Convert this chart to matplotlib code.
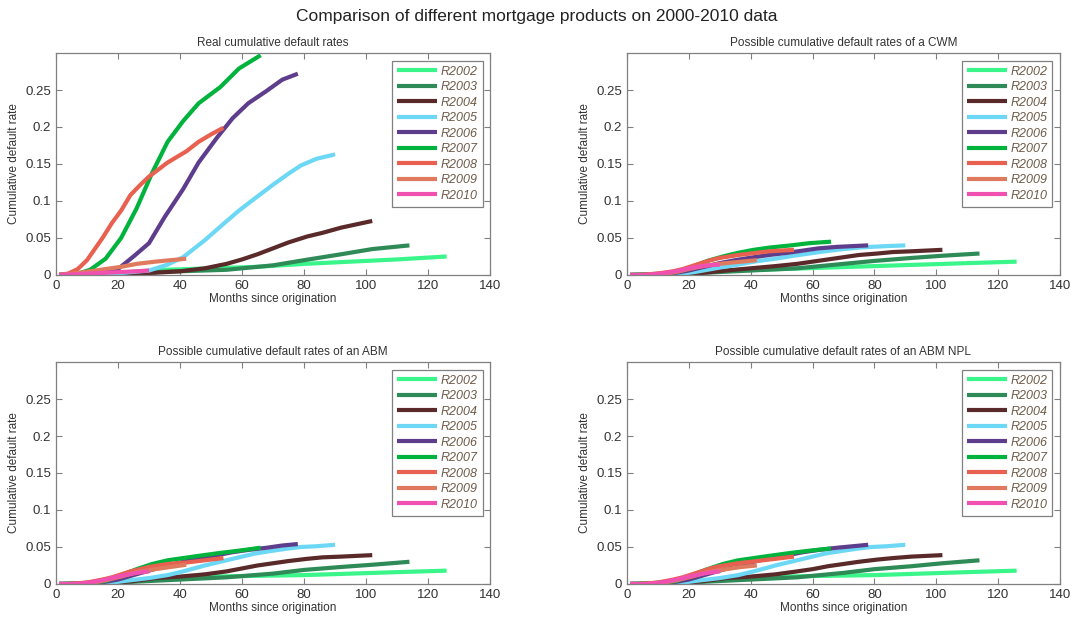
import matplotlib
matplotlib.use('Agg')
import matplotlib.pyplot as plt

plt.rcParams['font.family'] = ['Liberation Sans', 'DejaVu Sans']

vintages = ['R2002', 'R2003', 'R2004', 'R2005', 'R2006', 'R2007', 'R2008', 'R2009', 'R2010']
colors = ['#3af58a', '#2e8b57', '#5a2a2a', '#6cd8f5', '#5e3d8c', '#00b33c', '#e8604f', '#e07a5f', '#f050b0']

# months since origination (sample points) for each vintage
months = {
    'R2002': [1, 15, 25, 35, 50, 65, 80, 95, 110, 126],
    'R2003': [1, 15, 25, 40, 55, 70, 80, 92, 102, 114],
    'R2004': [1, 15, 25, 32, 40, 48, 55, 60, 65, 70, 75, 81, 86, 92, 102],
    'R2005': [1, 15, 22, 30, 36, 41, 48, 54, 59, 64, 70, 75, 79, 84, 90],
    'R2006': [1, 12, 16, 20, 25, 30, 35, 41, 46, 52, 57, 62, 68, 73, 78],
    'R2007': [1, 8, 11, 16, 21, 26, 31, 36, 41, 46, 53, 59, 66],
    'R2008': [1, 4, 7, 10, 15, 18, 21, 24, 27, 30, 36, 42, 46, 50, 54],
    'R2009': [1, 6, 11, 16, 21, 26, 32, 37, 42],
    'R2010': [1, 6, 11, 16, 21, 26, 30],
}

real = {
    'R2002': [0, 0.002, 0.004, 0.007, 0.009, 0.011, 0.015, 0.018, 0.021, 0.025],
    'R2003': [0, 0.001, 0.003, 0.005, 0.007, 0.013, 0.02, 0.028, 0.035, 0.04],
    'R2004': [0, 0.001, 0.002, 0.003, 0.005, 0.009, 0.015, 0.021, 0.028, 0.036, 0.044, 0.052, 0.057, 0.064, 0.073],
    'R2005': [0, 0.001, 0.003, 0.006, 0.014, 0.024, 0.047, 0.069, 0.087, 0.103, 0.122, 0.137, 0.148, 0.157, 0.163],
    'R2006': [0, 0.002, 0.004, 0.008, 0.025, 0.043, 0.078, 0.116, 0.152, 0.186, 0.212, 0.232, 0.249, 0.264, 0.272],
    'R2007': [0, 0.003, 0.007, 0.022, 0.05, 0.09, 0.138, 0.18, 0.208, 0.232, 0.254, 0.279, 0.297],
    'R2008': [0, 0.002, 0.008, 0.02, 0.05, 0.07, 0.087, 0.108, 0.121, 0.133, 0.152, 0.167, 0.18, 0.19, 0.199],
    'R2009': [0, 0.002, 0.005, 0.008, 0.011, 0.015, 0.018, 0.02, 0.022],
    'R2010': [0, 0.001, 0.002, 0.003, 0.004, 0.005, 0.006],
}

cwm = {
    'R2002': [0, 0, 0.004, 0.006, 0.008, 0.01, 0.012, 0.014, 0.016, 0.018],
    'R2003': [0, 0, 0.003, 0.006, 0.009, 0.015, 0.019, 0.023, 0.026, 0.029],
    'R2004': [0, 0, 0.003, 0.006, 0.009, 0.012, 0.015, 0.018, 0.021, 0.024, 0.027, 0.029, 0.031, 0.032, 0.034],
    'R2005': [0, 0, 0.004, 0.01, 0.014, 0.018, 0.022, 0.026, 0.029, 0.032, 0.035, 0.037, 0.038, 0.039, 0.04],
    'R2006': [0, 0.001, 0.003, 0.006, 0.011, 0.016, 0.02, 0.024, 0.027, 0.03, 0.033, 0.036, 0.038, 0.039, 0.04],
    'R2007': [0, 0.001, 0.002, 0.004, 0.011, 0.019, 0.025, 0.03, 0.034, 0.037, 0.04, 0.043, 0.045],
    'R2008': [0, 0, 0.001, 0.002, 0.005, 0.008, 0.012, 0.016, 0.02, 0.023, 0.027, 0.03, 0.032, 0.033, 0.034],
    'R2009': [0, 0, 0.001, 0.004, 0.009, 0.013, 0.016, 0.018, 0.02],
    'R2010': [0, 0, 0.002, 0.005, 0.01, 0.013, 0.014],
}

abm = {
    'R2002': [0, 0, 0.004, 0.007, 0.01, 0.011, 0.012, 0.014, 0.016, 0.018],
    'R2003': [0, 0, 0.003, 0.006, 0.009, 0.014, 0.019, 0.023, 0.026, 0.03],
    'R2004': [0, 0, 0.004, 0.008, 0.01, 0.013, 0.017, 0.021, 0.025, 0.028, 0.031, 0.034, 0.036, 0.037, 0.039],
    'R2005': [0, 0, 0.004, 0.008, 0.012, 0.017, 0.025, 0.031, 0.036, 0.041, 0.045, 0.048, 0.05, 0.051, 0.053],
    'R2006': [0, 0.001, 0.003, 0.006, 0.012, 0.018, 0.024, 0.03, 0.035, 0.039, 0.043, 0.046, 0.049, 0.052, 0.054],
    'R2007': [0, 0.001, 0.002, 0.004, 0.012, 0.02, 0.027, 0.032, 0.035, 0.038, 0.042, 0.045, 0.049],
    'R2008': [0, 0, 0.001, 0.002, 0.006, 0.009, 0.013, 0.017, 0.02, 0.023, 0.027, 0.029, 0.031, 0.033, 0.035],
    'R2009': [0, 0, 0.001, 0.005, 0.01, 0.016, 0.02, 0.023, 0.026],
    'R2010': [0, 0, 0.002, 0.006, 0.011, 0.015, 0.017],
}

abm_npl = {
    'R2002': [0, 0, 0.004, 0.007, 0.01, 0.011, 0.012, 0.014, 0.016, 0.018],
    'R2003': [0, 0, 0.003, 0.006, 0.009, 0.015, 0.02, 0.024, 0.028, 0.032],
    'R2004': [0, 0, 0.004, 0.008, 0.01, 0.013, 0.017, 0.02, 0.024, 0.027, 0.03, 0.033, 0.035, 0.037, 0.039],
    'R2005': [0, 0, 0.004, 0.008, 0.012, 0.017, 0.025, 0.031, 0.036, 0.041, 0.045, 0.048, 0.05, 0.051, 0.053],
    'R2006': [0, 0.001, 0.003, 0.006, 0.012, 0.018, 0.024, 0.03, 0.035, 0.039, 0.043, 0.046, 0.049, 0.051, 0.053],
    'R2007': [0, 0.001, 0.002, 0.004, 0.012, 0.02, 0.027, 0.032, 0.035, 0.038, 0.042, 0.045, 0.048],
    'R2008': [0, 0, 0.001, 0.002, 0.006, 0.009, 0.013, 0.017, 0.021, 0.024, 0.028, 0.031, 0.033, 0.035, 0.037],
    'R2009': [0, 0, 0.001, 0.005, 0.01, 0.016, 0.02, 0.023, 0.025],
    'R2010': [0, 0, 0.002, 0.006, 0.011, 0.015, 0.017],
}

panels = [
    ('Real cumulative default rates', real),
    ('Possible cumulative default rates of a CWM', cwm),
    ('Possible cumulative default rates of an ABM', abm),
    ('Possible cumulative default rates of an ABM NPL', abm_npl),
]

fig = plt.figure(figsize=(10.73, 6.2), dpi=100)
positions = [
    [0.0522, 0.5565, 0.4045, 0.358],
    [0.5843, 0.5565, 0.4035, 0.358],
    [0.0522, 0.0581, 0.4045, 0.358],
    [0.5843, 0.0581, 0.4035, 0.358],
]

for pos, (title, data) in zip(positions, panels):
    ax = fig.add_axes(pos)
    for v, c in zip(vintages, colors):
        ax.plot(months[v], data[v], color=c, lw=3, label=v, solid_capstyle='butt')
    ax.set_xlim(0, 140)
    ax.set_ylim(0, 0.3)
    ax.set_xticks(range(0, 141, 20))
    ax.set_yticks([0, 0.05, 0.1, 0.15, 0.2, 0.25])
    ax.set_yticklabels(['0', '0.05', '0.1', '0.15', '0.2', '0.25'])
    ax.tick_params(direction='in', top=True, right=True, labelsize=9.5,
                   colors='#808080', labelcolor='#333333', length=4, width=0.8)
    for s in ax.spines.values():
        s.set_color('#808080')
        s.set_linewidth(0.9)
    ax.set_title(title, fontsize=8.5, color='#333333', pad=5)
    ax.set_xlabel('Months since origination', fontsize=8.5, color='#333333', labelpad=1)
    ax.set_ylabel('Cumulative default rate', fontsize=8.5, color='#333333', labelpad=4)
    leg = ax.legend(loc='upper right', fontsize=9, handlelength=3.2, labelspacing=0.28,
                    borderpad=0.4, handletextpad=0.3, fancybox=False, framealpha=1,
                    borderaxespad=0.6)
    leg.get_frame().set_edgecolor('#808080')
    leg.get_frame().set_linewidth(0.9)
    for t in leg.get_texts():
        t.set_color('#6e5a48')
        t.set_fontstyle('italic')

fig.suptitle('Comparison of different mortgage products on 2000-2010 data', fontsize=12.5,
             color='#222222', y=0.985)

fig.savefig('out.png', dpi=100)
